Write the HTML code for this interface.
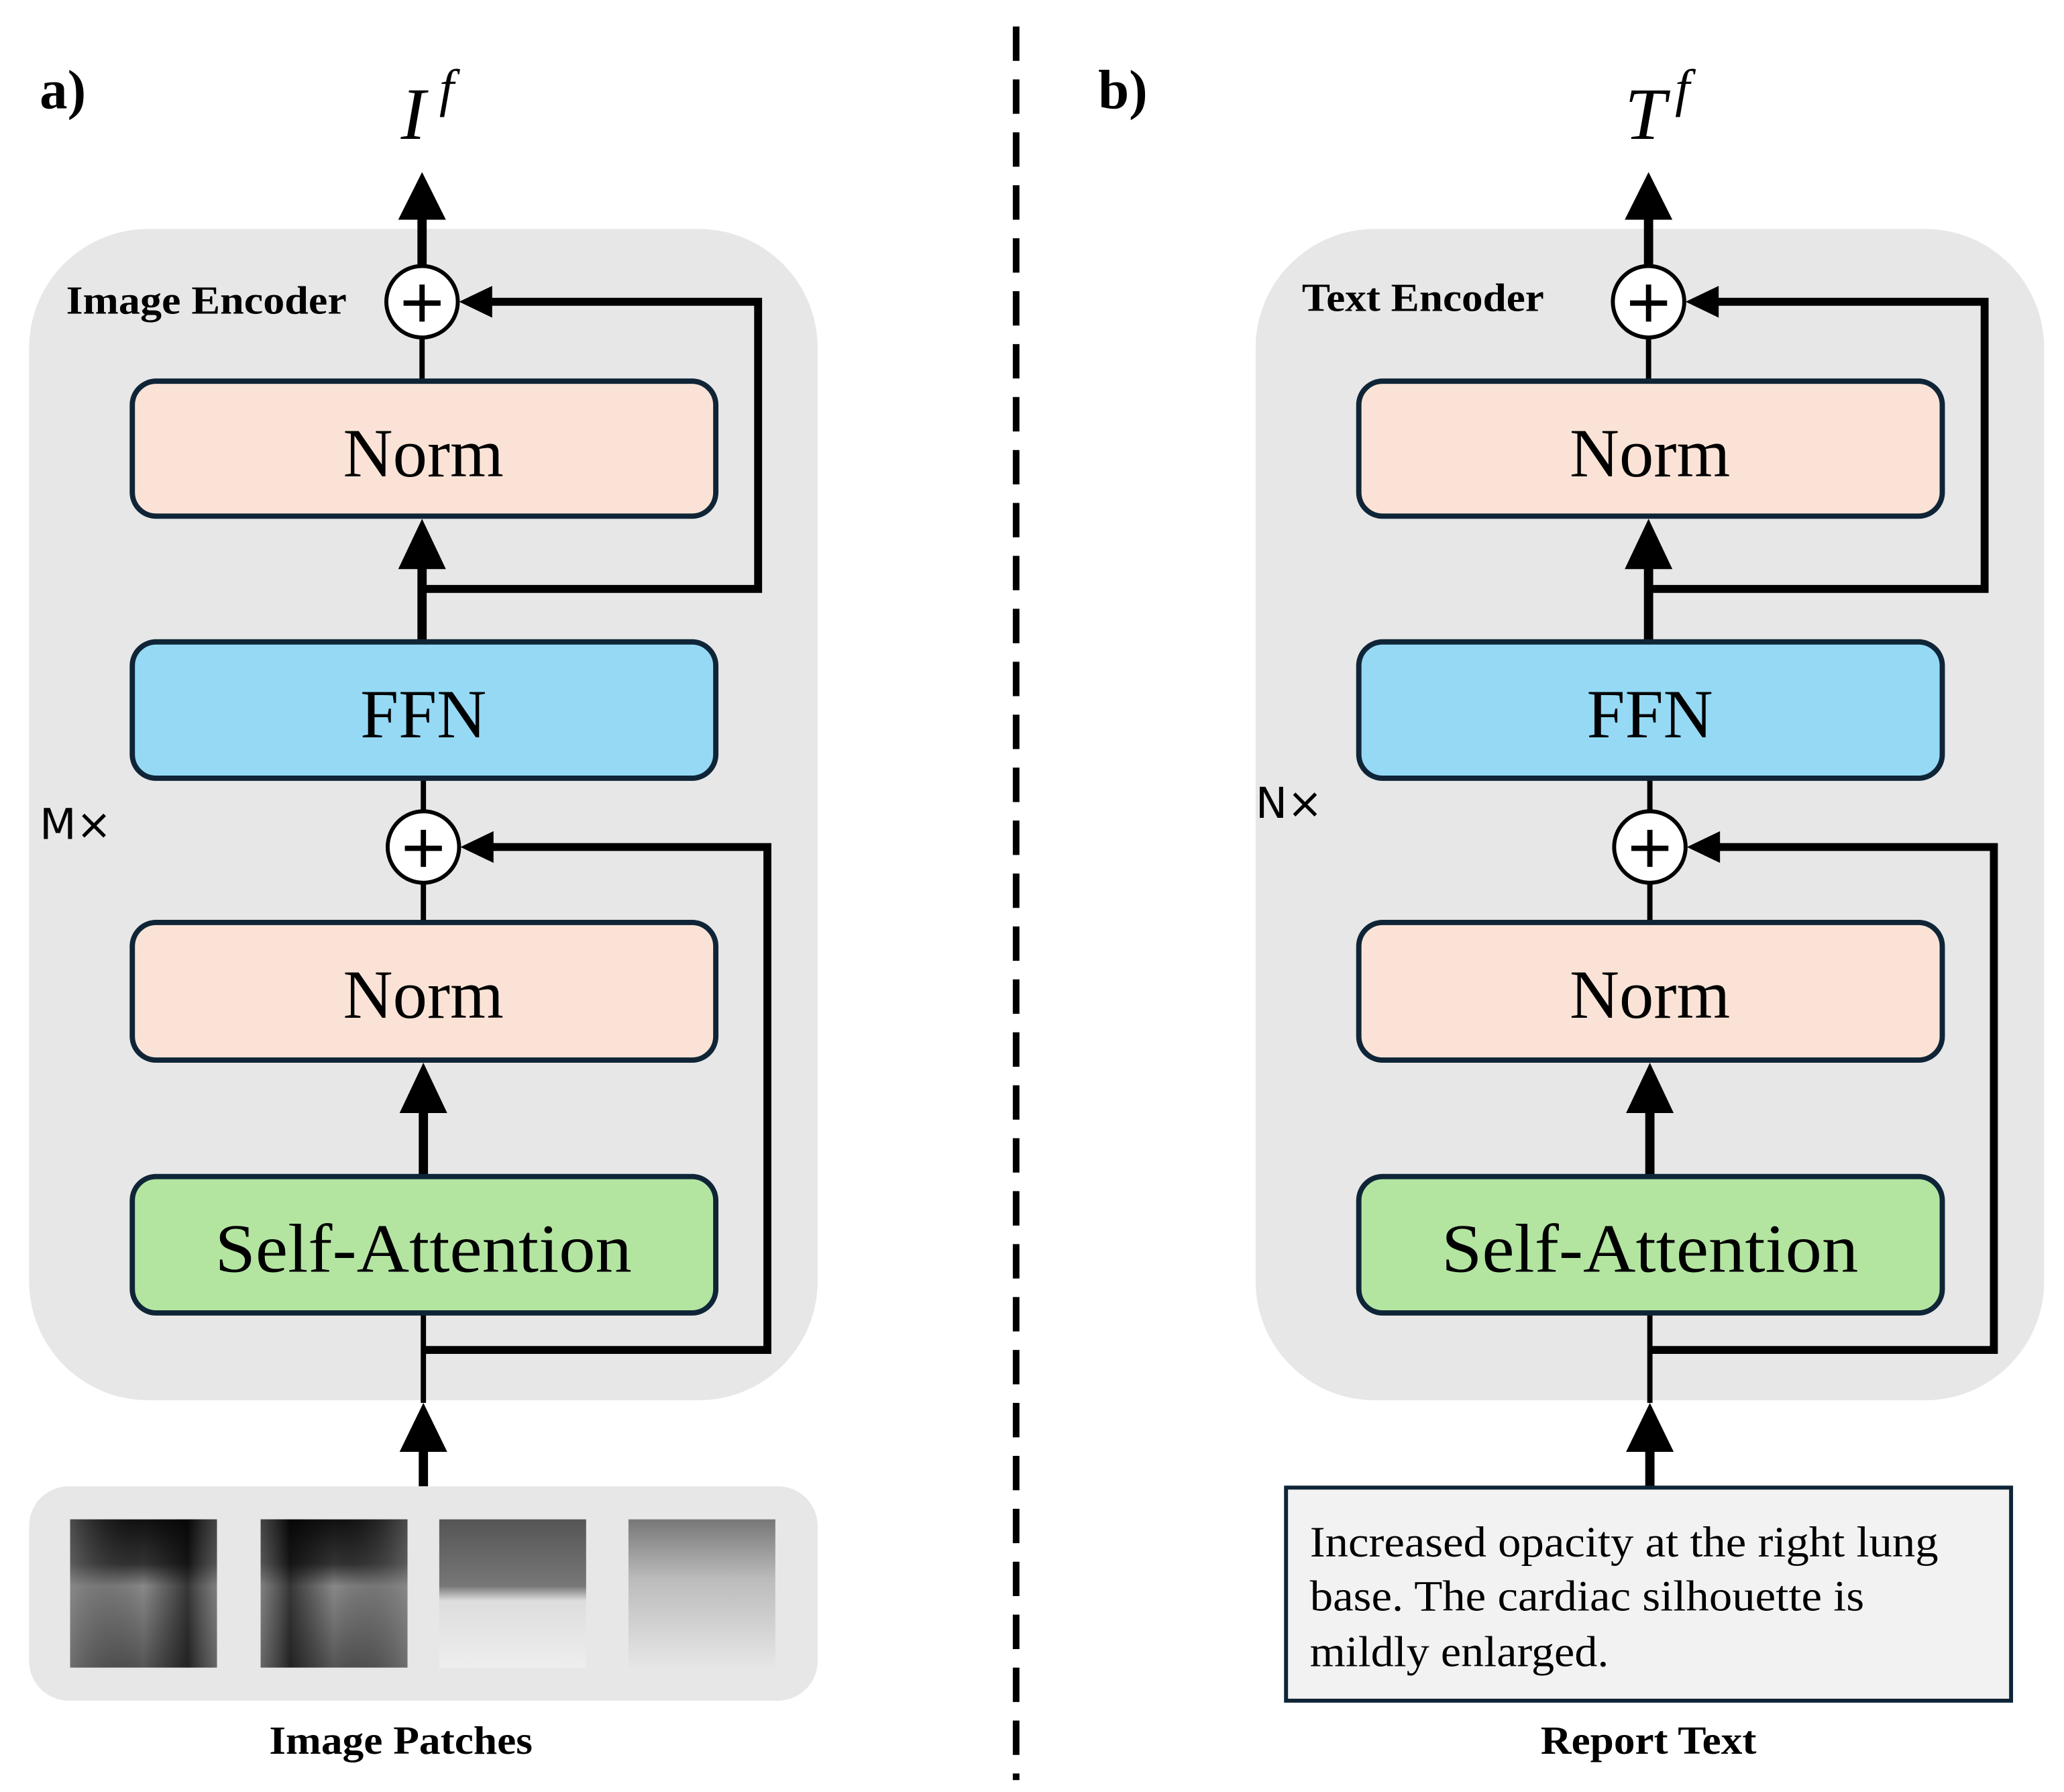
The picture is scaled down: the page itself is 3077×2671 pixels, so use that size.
<!DOCTYPE html>
<html><head><meta charset="utf-8"><style>
html,body{margin:0;padding:0;background:#fff;}
svg{display:block;}
</style></head><body>
<svg width="3077" height="2671" viewBox="0 0 1560 1354" preserveAspectRatio="none" xmlns="http://www.w3.org/2000/svg">
<defs>
<linearGradient id="p1" x1="0" y1="0" x2="0" y2="1"><stop offset="0" stop-color="#111"/><stop offset="0.3" stop-color="#333"/><stop offset="0.45" stop-color="#888"/><stop offset="1" stop-color="#555"/></linearGradient>
<linearGradient id="p1h" x1="0" y1="0" x2="1" y2="0"><stop offset="0" stop-color="#888" stop-opacity="0.5"/><stop offset="0.5" stop-color="#000" stop-opacity="0"/><stop offset="0.8" stop-color="#000" stop-opacity="0.6"/><stop offset="1" stop-color="#777" stop-opacity="0.5"/></linearGradient>
<linearGradient id="p3" x1="0" y1="0" x2="0" y2="1"><stop offset="0" stop-color="#555"/><stop offset="0.45" stop-color="#777"/><stop offset="0.55" stop-color="#ddd"/><stop offset="1" stop-color="#eee"/></linearGradient>
<linearGradient id="p4" x1="0" y1="0" x2="0" y2="1"><stop offset="0" stop-color="#777"/><stop offset="0.4" stop-color="#bbb"/><stop offset="1" stop-color="#e6e6e6"/></linearGradient>
</defs>
<g font-family="'Liberation Serif',serif">
<text x="30" y="82" font-size="42" font-weight="bold">a)</text>
<text x="830" y="82" font-size="42" font-weight="bold">b)</text>
<line x1="768" y1="20" x2="768" y2="1345" stroke="#000" stroke-width="5" stroke-dasharray="26,14"/>
</g>

<g id="L">
<text x="303" y="105" font-family="'Liberation Serif',serif" font-style="italic" font-size="56">I</text>
<text x="332" y="80" font-family="'Liberation Serif',serif" font-style="italic" font-size="40">f</text>
<rect x="22" y="173" width="596" height="885" rx="90" fill="#e7e7e7"/>
<text x="50" y="237" font-family="'Liberation Serif',serif" font-weight="bold" font-size="30" textLength="212" lengthAdjust="spacingAndGlyphs">Image Encoder</text>
<text x="30" y="634" font-family="'DejaVu Sans',sans-serif" font-size="32">M×</text>
<g stroke="#000" fill="none">
<line x1="319" y1="255" x2="319" y2="288" stroke-width="4"/>
<line x1="319" y1="160" x2="319" y2="201" stroke-width="7"/>
<line x1="319" y1="486" x2="319" y2="425" stroke-width="7"/>
<polyline points="319,445 573,445 573,228 370,228" stroke-width="6"/>
<line x1="320" y1="588" x2="320" y2="613" stroke-width="4"/>
<line x1="320" y1="667" x2="320" y2="697" stroke-width="4"/>
<line x1="320" y1="889" x2="320" y2="835" stroke-width="7"/>
<polyline points="320,1020 580,1020 580,640 370,640" stroke-width="6"/>
<line x1="320" y1="992" x2="320" y2="1060" stroke-width="4"/>
<line x1="320" y1="1123" x2="320" y2="1090" stroke-width="7"/>
</g>
<g fill="#000">
<polygon points="319,130 301,166 337,166"/>
<polygon points="319,392 301,430 337,430"/>
<polygon points="320,803 302,841 338,841"/>
<polygon points="320,1060 302,1097 338,1097"/>
<polygon points="347,228 372,216 372,240"/>
<polygon points="348,640 373,628 373,652"/>
</g>
<g stroke="#000" stroke-width="3" fill="#fff">
<circle cx="319" cy="228" r="27"/>
<circle cx="320" cy="640" r="27"/>
</g>
<g stroke="#000" stroke-width="4">
<line x1="305" y1="229" x2="333" y2="229"/><line x1="319" y1="215" x2="319" y2="243"/>
<line x1="306" y1="641" x2="334" y2="641"/><line x1="320" y1="627" x2="320" y2="655"/>
</g>
<g stroke="#0f2537" stroke-width="4">
<rect x="100" y="288" width="441" height="102" rx="18" fill="#fae3d6"/>
<rect x="100" y="485" width="441" height="103" rx="18" fill="#95d9f5"/>
<rect x="100" y="697" width="441" height="104" rx="18" fill="#fae3d6"/>
<rect x="100" y="889" width="441" height="103" rx="18" fill="#b3e5a1"/>
</g>
<g font-family="'Liberation Serif',serif" font-size="52" text-anchor="middle">
<text x="320" y="360">Norm</text>
<text x="320" y="557">FFN</text>
<text x="320" y="769">Norm</text>
<text x="320" y="961" textLength="315" lengthAdjust="spacingAndGlyphs">Self-Attention</text>
</g>
</g>

<rect x="22" y="1123" width="596" height="162" rx="30" fill="#e7e7e7"/>
<rect x="53" y="1148" width="111" height="112" fill="url(#p1)"/>
<rect x="53" y="1148" width="111" height="112" fill="url(#p1h)"/>
<rect x="197" y="1148" width="111" height="112" fill="url(#p1)"/>
<rect x="197" y="1148" width="111" height="112" fill="url(#p1h)" transform="translate(505,0) scale(-1,1)"/>
<rect x="332" y="1148" width="111" height="112" fill="url(#p3)"/>
<rect x="475" y="1148" width="111" height="112" fill="url(#p4)"/>
<text x="303" y="1325" font-family="'Liberation Serif',serif" font-weight="bold" font-size="30" text-anchor="middle" textLength="199" lengthAdjust="spacingAndGlyphs">Image Patches</text>

<text x="1228" y="105" font-family="'Liberation Serif',serif" font-style="italic" font-size="56">T</text>
<text x="1266" y="80" font-family="'Liberation Serif',serif" font-style="italic" font-size="40">f</text>
<g transform="translate(927,0)">
<rect x="22" y="173" width="596" height="885" rx="90" fill="#e7e7e7"/>
<text x="57" y="235" font-family="'Liberation Serif',serif" font-weight="bold" font-size="30" textLength="183" lengthAdjust="spacingAndGlyphs">Text Encoder</text>
<text x="22" y="618" font-family="'DejaVu Sans',sans-serif" font-size="32">N×</text>
<g stroke="#000" fill="none">
<line x1="319" y1="255" x2="319" y2="288" stroke-width="4"/>
<line x1="319" y1="160" x2="319" y2="201" stroke-width="7"/>
<line x1="319" y1="486" x2="319" y2="425" stroke-width="7"/>
<polyline points="319,445 573,445 573,228 370,228" stroke-width="6"/>
<line x1="320" y1="588" x2="320" y2="613" stroke-width="4"/>
<line x1="320" y1="667" x2="320" y2="697" stroke-width="4"/>
<line x1="320" y1="889" x2="320" y2="835" stroke-width="7"/>
<polyline points="320,1020 580,1020 580,640 370,640" stroke-width="6"/>
<line x1="320" y1="992" x2="320" y2="1060" stroke-width="4"/>
<line x1="320" y1="1123" x2="320" y2="1090" stroke-width="7"/>
</g>
<g fill="#000">
<polygon points="319,130 301,166 337,166"/>
<polygon points="319,392 301,430 337,430"/>
<polygon points="320,803 302,841 338,841"/>
<polygon points="320,1060 302,1097 338,1097"/>
<polygon points="347,228 372,216 372,240"/>
<polygon points="348,640 373,628 373,652"/>
</g>
<g stroke="#000" stroke-width="3" fill="#fff">
<circle cx="319" cy="228" r="27"/>
<circle cx="320" cy="640" r="27"/>
</g>
<g stroke="#000" stroke-width="4">
<line x1="305" y1="229" x2="333" y2="229"/><line x1="319" y1="215" x2="319" y2="243"/>
<line x1="306" y1="641" x2="334" y2="641"/><line x1="320" y1="627" x2="320" y2="655"/>
</g>
<g stroke="#0f2537" stroke-width="4">
<rect x="100" y="288" width="441" height="102" rx="18" fill="#fae3d6"/>
<rect x="100" y="485" width="441" height="103" rx="18" fill="#95d9f5"/>
<rect x="100" y="697" width="441" height="104" rx="18" fill="#fae3d6"/>
<rect x="100" y="889" width="441" height="103" rx="18" fill="#b3e5a1"/>
</g>
<g font-family="'Liberation Serif',serif" font-size="52" text-anchor="middle">
<text x="320" y="360">Norm</text>
<text x="320" y="557">FFN</text>
<text x="320" y="769">Norm</text>
<text x="320" y="961" textLength="315" lengthAdjust="spacingAndGlyphs">Self-Attention</text>
</g>
</g>

<rect x="972" y="1124" width="548" height="161" fill="#f2f2f2" stroke="#0f2537" stroke-width="3"/>
<g font-family="'Liberation Serif',serif" font-size="33">
<text x="990" y="1176" textLength="475" lengthAdjust="spacingAndGlyphs">Increased opacity at the right lung</text>
<text x="990" y="1217" textLength="419" lengthAdjust="spacingAndGlyphs">base. The cardiac silhouette is</text>
<text x="990" y="1259" textLength="226" lengthAdjust="spacingAndGlyphs">mildly enlarged.</text>
</g>
<text x="1246" y="1325" font-family="'Liberation Serif',serif" font-weight="bold" font-size="30" text-anchor="middle" textLength="163" lengthAdjust="spacingAndGlyphs">Report Text</text>
</svg>
</body></html>
